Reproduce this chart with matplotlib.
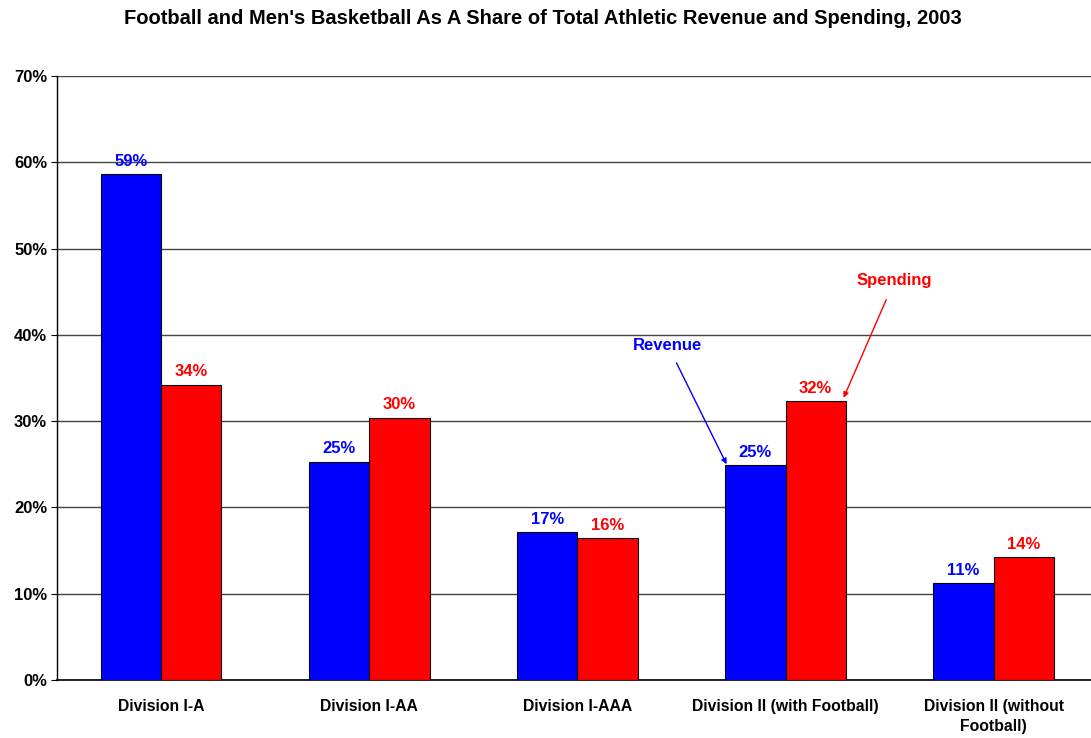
import numpy as np
import matplotlib.pyplot as plt

plt.rcParams['font.family'] = ['Liberation Sans', 'DejaVu Sans']
plt.rcParams['font.weight'] = 'bold'

# --- data ---
categories = ["Division I-A", "Division I-AA", "Division I-AAA",
              "Division II (with Football)", "Division II (without\nFootball)"]
revenue = [58.6, 25.3, 17.1, 24.9, 11.2]
spending = [34.2, 30.4, 16.4, 32.3, 14.2]

x = np.arange(len(categories))
w = 0.29

fig = plt.figure(figsize=(10.91, 7.38), dpi=100)
ax = fig.add_axes([0.0522, 0.0786, 0.954, 0.8185])

ax.bar(x - w / 2, revenue, w, color="#0000FF", edgecolor="black", linewidth=0.8, zorder=3)
ax.bar(x + w / 2, spending, w, color="#FF0000", edgecolor="black", linewidth=0.8, zorder=3)

for xi, v in zip(x - w / 2, revenue):
    ax.annotate(f"{v:.0f}%", (xi, v), xytext=(0, 4), textcoords="offset points",
                ha="center", va="bottom", color="#0000FF", fontsize=12, fontweight="bold")
for xi, v in zip(x + w / 2, spending):
    ax.annotate(f"{v:.0f}%", (xi, v), xytext=(0, 4), textcoords="offset points",
                ha="center", va="bottom", color="#FF0000", fontsize=12, fontweight="bold")

# series call-outs
ax.annotate("Revenue", xy=(2.717, 25.0), xytext=(2.434, 38.8), ha="center", va="center",
            color="#0000FF", fontsize=12, fontweight="bold",
            arrowprops=dict(arrowstyle="-|>", color="#0000FF", lw=1.0,
                            mutation_scale=8, shrinkA=6, shrinkB=0))
ax.annotate("Spending", xy=(3.279, 32.7), xytext=(3.524, 46.3), ha="center", va="center",
            color="#FF0000", fontsize=12, fontweight="bold",
            arrowprops=dict(arrowstyle="-|>", color="#FF0000", lw=1.0,
                            mutation_scale=8, shrinkA=7, shrinkB=0))

ax.set_xlim(-0.5, len(categories) - 0.5)
ax.set_ylim(0, 70)
ax.set_yticks(np.arange(0, 71, 10))
ax.set_yticklabels([f"{t}%" for t in range(0, 71, 10)], fontsize=12, fontweight="bold")
ax.set_xticks(x)
ax.set_xticklabels(categories, fontsize=11.3, fontweight="bold", linespacing=1.4)
ax.tick_params(axis="x", length=0, pad=14)
ax.tick_params(axis="y", length=4, direction="out", pad=3)

ax.grid(axis="y", color="#444444", linewidth=1.0, zorder=0)
for s in ["top", "right"]:
    ax.spines[s].set_visible(False)
ax.spines["left"].set_linewidth(1.0)
ax.spines["bottom"].set_linewidth(1.2)

fig.suptitle("Football and Men's Basketball As A Share of Total Athletic Revenue and Spending, 2003",
             x=0.498, y=0.988, fontsize=14.5, fontweight="bold")

fig.savefig("out.png", dpi=100)
